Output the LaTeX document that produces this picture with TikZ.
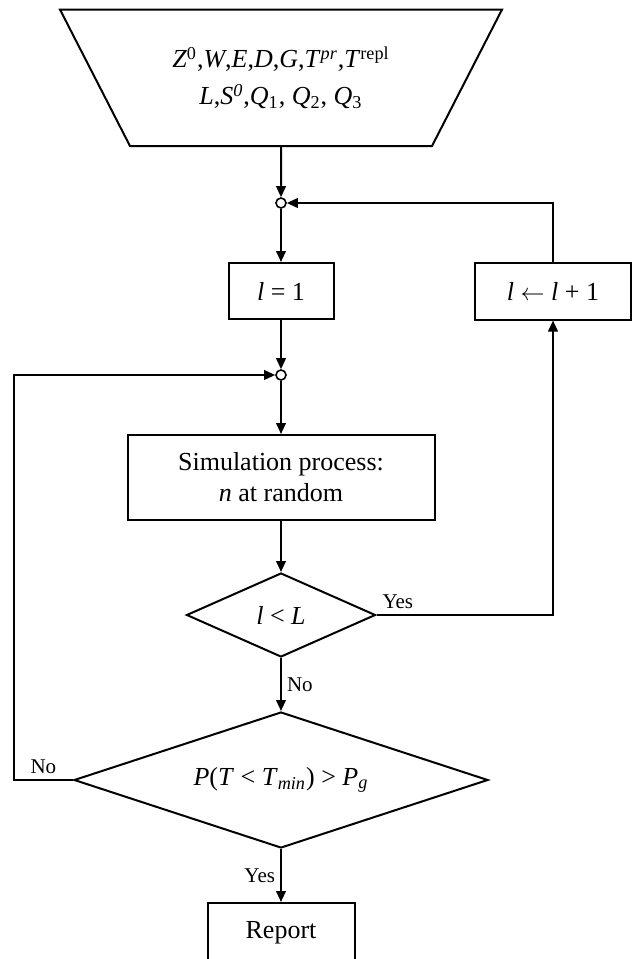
\documentclass[tikz,border=0pt]{standalone}
\usepackage{fontspec}
\setmainfont{Liberation Serif}
\usepackage{tikz}
\usetikzlibrary{shapes.geometric, positioning, arrows.meta}
\newcommand{\iv}[1]{\textit{#1}}

\begin{document}
\begin{tikzpicture}[
    box/.style={draw, rectangle, line width=1pt, align=center, inner sep=0pt, font=\fontsize{13}{15.5}\selectfont},
    decision/.style={draw, diamond, line width=1pt, inner sep=0pt, font=\fontsize{13}{15.5}\selectfont},
    datain/.style={draw, trapezium, trapezium left angle=128.86, trapezium right angle=128.86, trapezium stretches=true, line width=1pt, align=center, inner sep=0pt, font=\fontsize{13}{15.5}\selectfont},
    junc/.style={draw, circle, line width=0.8pt, fill=white, inner sep=0pt, minimum size=5pt},
    arrow/.style={-{Triangle[length=5.5pt, width=4.8pt]}, line width=1pt},
    lbl/.style={font=\fontsize{10.5}{12}\selectfont, inner sep=2.5pt}
]
    \useasboundingbox (0,0) rectangle (318pt,-479.5pt);

    \node (input) [datain, minimum width=221.5pt, minimum height=68.25pt] at (140.5pt,-38.9pt) {\iv{Z}\textsuperscript{0},\iv{W},\iv{E},\iv{D},\iv{G},\iv{T}\textsuperscript{\iv{pr}},\iv{T}\textsuperscript{repl}\\[3pt] \iv{L},\iv{S}\textsuperscript{\iv{0}},\iv{Q}\textsubscript{1}, \iv{Q}\textsubscript{2}, \iv{Q}\textsubscript{3}};
    \node (j1) [junc, below of=input, node distance=62.6pt] {};
    \node (init) [box, minimum width=52.5pt, minimum height=28pt, below of=j1, node distance=44pt] {\iv{l} = 1};
    \node (incr) [box, minimum width=78pt, minimum height=28.5pt, right of=init, node distance=136pt] {\iv{l} $\leftarrow$ \iv{l} + 1};
    \node (j2) [junc, below of=init, node distance=42pt] {};
    \node (sim) [box, minimum width=153.5pt, minimum height=42.5pt, below of=j2, node distance=51.25pt] {Simulation process:\\ \iv{n} at random};
    \node (test1) [decision, aspect=2.25, minimum width=94.5pt, minimum height=42pt, below of=sim, node distance=68.75pt] {\iv{l} < \iv{L}};
    \node (test2) [decision, aspect=3.05, minimum width=207pt, minimum height=68pt, below of=test1, node distance=82.5pt] {\iv{P}(\iv{T} < \iv{T}\textsubscript{\iv{min}}) > \iv{P}\textsubscript{\iv{g}}};
    \node (report) [box, minimum width=73.5pt, minimum height=30pt, below of=test2, node distance=76.5pt] {Report};

    \draw [arrow] (input) -- (j1);
    \draw [arrow] (j1) -- (init);
    \draw [arrow] (incr) |- (j1);
    \draw [arrow] (init) -- (j2);
    \draw [arrow] (j2) -- (sim);
    \draw [arrow] (sim) -- (test1);
    \draw [arrow] (test1) -| node [lbl, pos=0, above right] {Yes} (incr);
    \draw [arrow] (test1) -- node [lbl, right] {No} (test2);
    \draw [arrow] (test2.west) -- node [lbl, above] {No} ++(-29.65pt,0) |- (j2);
    \draw [arrow] (test2) -- node [lbl, left] {Yes} (report);
\end{tikzpicture}
\end{document}
